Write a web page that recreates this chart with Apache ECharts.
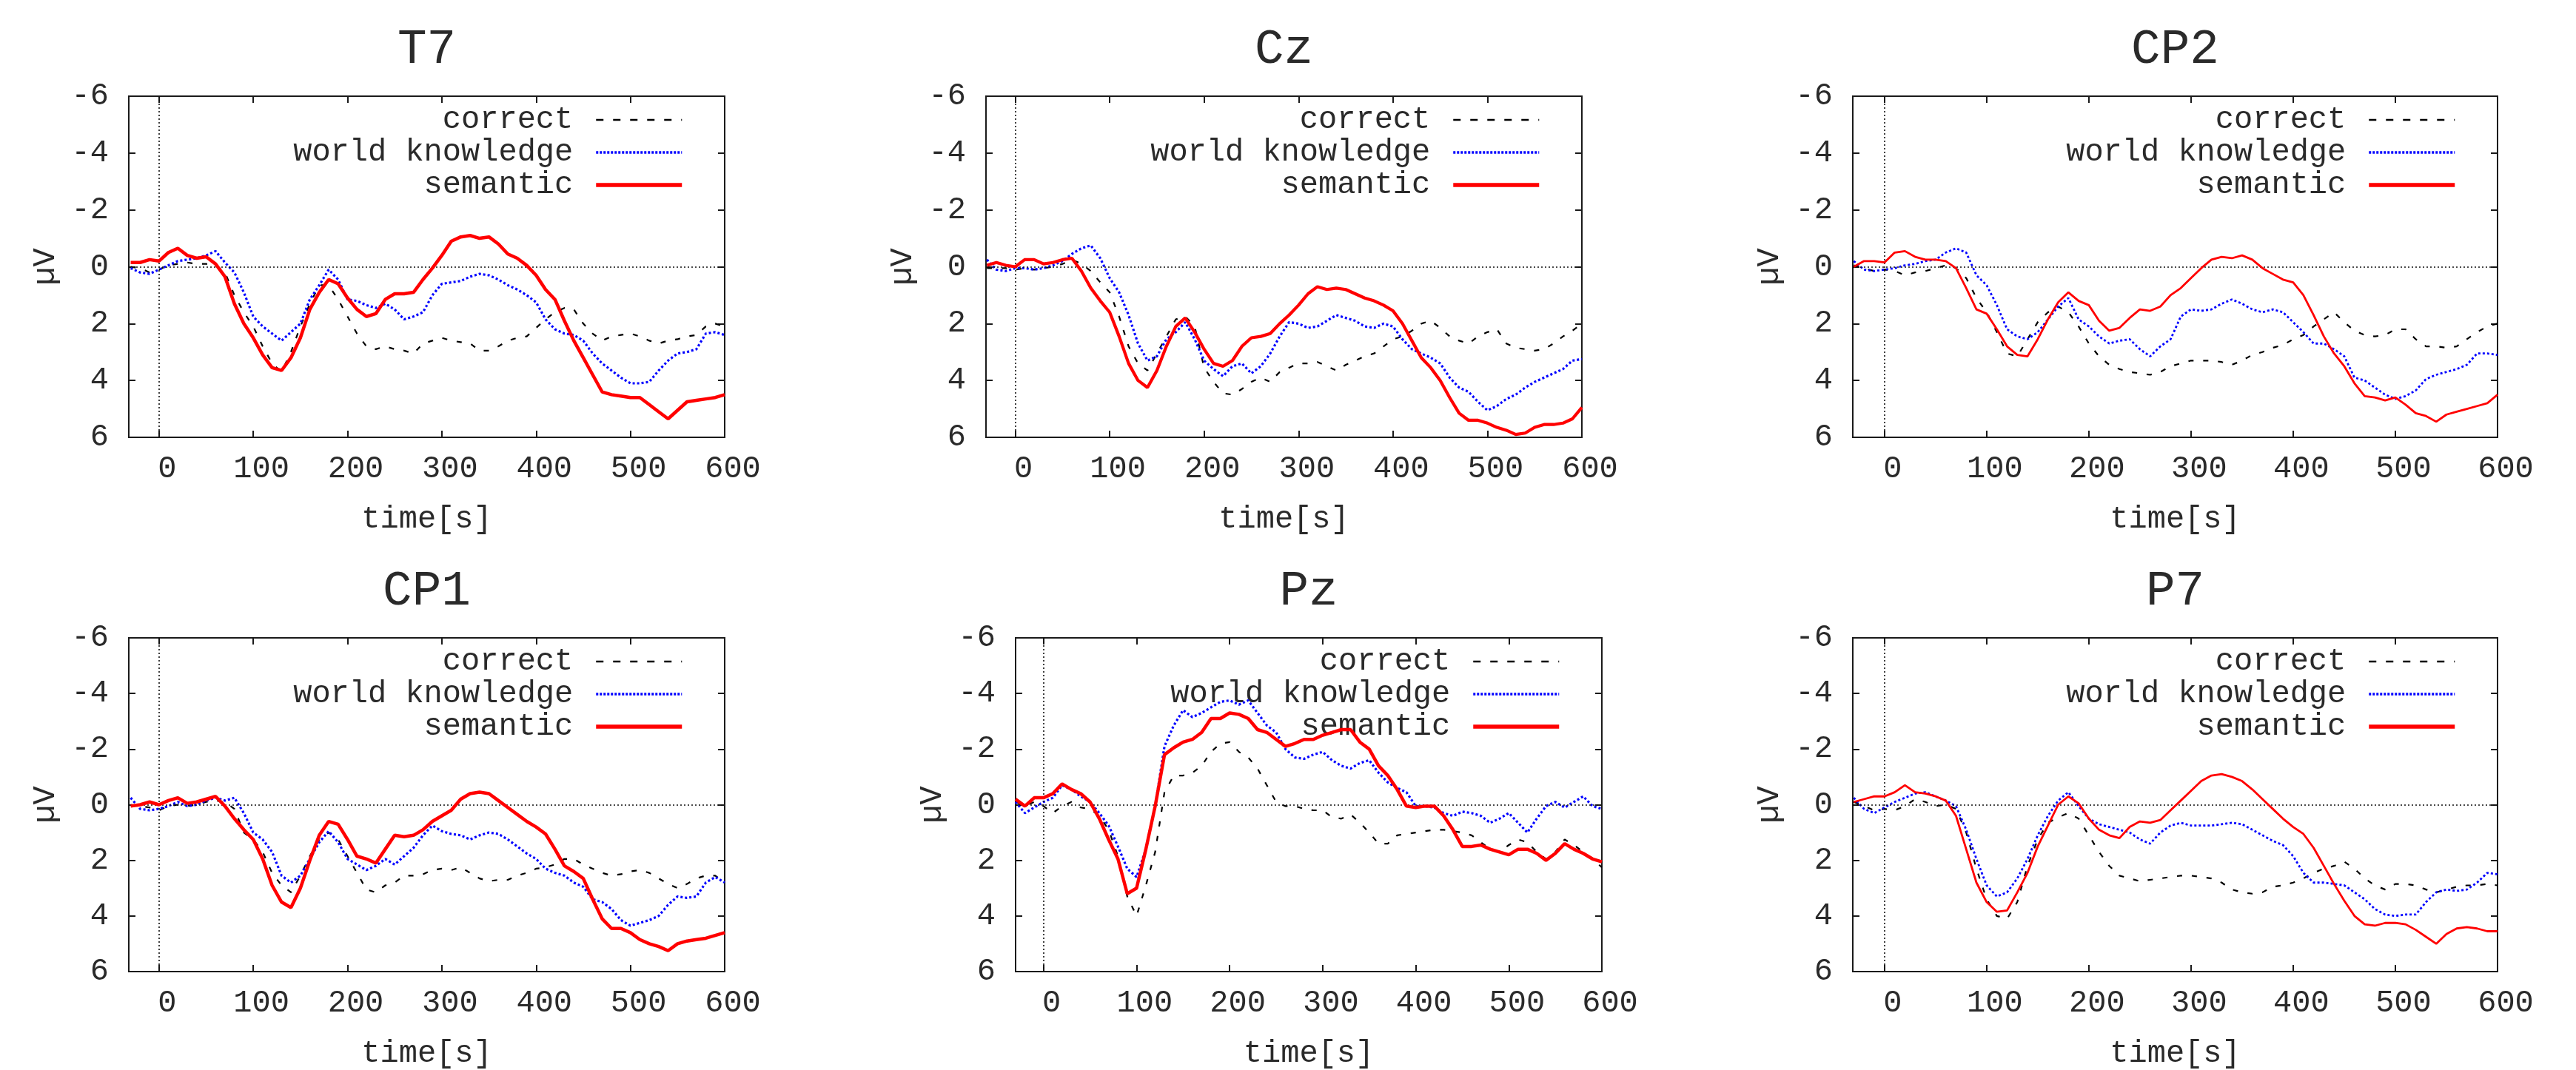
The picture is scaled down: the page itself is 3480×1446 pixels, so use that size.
<!DOCTYPE html>
<html><head><meta charset="utf-8">
<script src="https://cdn.jsdelivr.net/npm/echarts@6/dist/echarts.min.js"></script>
<style>html,body{margin:0;padding:0;background:#fff}#c{width:3480px;height:1446px}</style>
</head><body><div id="c"></div>
<script>
// ---------- data ----------
const times = [-30,-20,-10,0,10,20,30,40,50,60,
  70,80,90,100,110,120,130,140,150,160,
  170,180,190,200,210,220,230,240,250,260,
  270,280,290,300,310,320,330,340,350,360,
  370,380,390,400,410,420,430,440,450,460,
  470,480,490,500,510,520,530,540,550,560,
  570,580,590,600];
const seriesNames = ['correct', 'world knowledge', 'semantic'];
const panelTitles = ['T7', 'Cz', 'CP2', 'CP1', 'Pz', 'P7'];
const xTickValues = [0, 100, 200, 300, 400, 500, 600];

const T7_correct = [0,0.05,0.2,0.1,-0.05,-0.1,-0.15,-0.1,-0.1,-0.05,
  0.2,1.0,1.6,2.1,2.8,3.4,3.7,3.0,2.1,1.3,
  0.65,0.65,1.15,1.75,2.35,2.8,2.9,2.8,2.9,2.95,
  3.05,2.7,2.6,2.5,2.6,2.65,2.7,2.95,2.95,2.8,
  2.6,2.5,2.45,2.15,1.85,1.6,1.45,1.5,2.0,2.35,
  2.6,2.45,2.4,2.35,2.45,2.6,2.7,2.6,2.55,2.45,
  2.4,2.1,2.0,2.1];
const T7_world = [0.05,0.2,0.25,0.1,-0.05,-0.2,-0.25,-0.3,-0.4,-0.55,
  -0.15,0.2,0.9,1.75,2.1,2.35,2.6,2.3,2.0,1.15,
  0.65,0.1,0.45,1.15,1.2,1.35,1.45,1.3,1.5,1.85,
  1.75,1.6,1.0,0.6,0.55,0.5,0.35,0.25,0.3,0.45,
  0.65,0.8,1.0,1.25,1.85,2.2,2.35,2.4,2.6,3.05,
  3.4,3.65,3.9,4.1,4.1,4.05,3.65,3.3,3.05,3.0,
  2.9,2.35,2.3,2.4];
const T7_semantic = [-0.15,-0.15,-0.25,-0.2,-0.5,-0.65,-0.4,-0.3,-0.35,-0.1,
  0.35,1.3,2.0,2.5,3.1,3.55,3.65,3.2,2.5,1.5,
  0.9,0.45,0.6,1.1,1.5,1.75,1.65,1.15,0.95,0.95,
  0.9,0.45,0.05,-0.4,-0.9,-1.05,-1.1,-1.0,-1.05,-0.8,
  -0.45,-0.3,-0.05,0.3,0.8,1.15,1.9,2.6,3.2,3.8,
  4.4,4.5,4.55,4.6,4.6,4.85,5.1,5.35,5.05,4.75,
  4.7,4.65,4.6,4.5];

const Cz_correct = [0.05,0.05,0.05,0.1,0.05,0.1,0.05,0,-0.1,-0.25,
  -0.1,0.15,0.55,0.9,1.75,2.8,3.4,3.65,3.05,2.45,
  1.85,1.75,2.1,3.55,4.05,4.45,4.5,4.3,4.05,3.9,
  4.05,3.7,3.55,3.4,3.4,3.35,3.5,3.65,3.45,3.3,
  3.15,3.05,2.8,2.55,2.45,2.25,2.0,1.9,2.15,2.45,
  2.6,2.7,2.45,2.3,2.2,2.7,2.85,2.9,2.95,2.9,
  2.7,2.45,2.25,2.0];
const Cz_world = [-0.25,0.1,0.15,0.05,0.05,0.1,0.05,-0.05,-0.2,-0.45,
  -0.65,-0.75,-0.3,0.4,0.9,1.7,2.7,3.3,3.15,2.55,
  2.3,1.95,2.55,3.3,3.6,3.85,3.5,3.4,3.75,3.5,
  3.05,2.45,1.95,2.0,2.15,2.1,1.9,1.7,1.8,1.9,
  2.1,2.15,2.0,2.1,2.55,2.9,3.05,3.2,3.4,3.9,
  4.25,4.4,4.75,5.05,4.9,4.65,4.5,4.25,4.05,3.9,
  3.75,3.6,3.3,3.25];
const Cz_semantic = [-0.05,-0.15,-0.05,0,-0.25,-0.25,-0.1,-0.15,-0.25,-0.3,
  0.15,0.75,1.2,1.6,2.45,3.4,4.0,4.25,3.65,2.8,
  2.1,1.8,2.3,2.9,3.4,3.5,3.3,2.8,2.5,2.45,
  2.35,2.0,1.7,1.35,0.95,0.7,0.8,0.75,0.8,0.95,
  1.1,1.2,1.35,1.55,2.0,2.6,3.2,3.55,4.0,4.6,
  5.15,5.4,5.4,5.5,5.65,5.75,5.9,5.85,5.65,5.55,
  5.55,5.5,5.35,4.95];

const CP2_correct = [-0.05,0.05,0.15,0.1,0.15,0.3,0.2,0.15,0.05,-0.05,
  0.05,0.4,1.1,1.6,2.3,3.05,3.15,2.55,1.95,1.6,
  1.4,1.6,2.1,2.7,3.15,3.45,3.6,3.7,3.75,3.8,
  3.7,3.5,3.4,3.3,3.3,3.3,3.35,3.45,3.3,3.1,
  3.0,2.85,2.75,2.55,2.4,2.1,1.85,1.6,1.95,2.25,
  2.4,2.45,2.4,2.2,2.2,2.55,2.8,2.8,2.85,2.8,
  2.55,2.3,2.1,2.0];
const CP2_world = [-0.2,0.1,0.15,0.1,0.05,-0.05,-0.1,-0.2,-0.25,-0.5,
  -0.65,-0.5,0.3,0.65,1.35,2.2,2.45,2.55,2.3,1.85,
  1.4,1.1,1.85,2.1,2.45,2.7,2.6,2.55,2.9,3.15,
  2.8,2.55,1.75,1.5,1.55,1.5,1.3,1.15,1.3,1.5,
  1.6,1.5,1.6,1.95,2.3,2.7,2.7,2.9,3.15,3.9,
  4.0,4.25,4.5,4.65,4.55,4.35,3.95,3.8,3.7,3.6,
  3.45,3.05,3.05,3.1];
const CP2_semantic = [0,-0.2,-0.2,-0.15,-0.5,-0.55,-0.35,-0.25,-0.25,-0.2,
  0.05,0.75,1.5,1.65,2.2,2.8,3.1,3.15,2.55,1.85,
  1.25,0.9,1.2,1.35,1.9,2.25,2.15,1.8,1.5,1.55,
  1.4,1.0,0.75,0.4,0.05,-0.25,-0.35,-0.3,-0.4,-0.25,
  0.05,0.25,0.45,0.55,1.0,1.7,2.45,3.05,3.5,4.1,
  4.55,4.6,4.7,4.6,4.85,5.15,5.25,5.45,5.2,5.1,
  5.0,4.9,4.8,4.5];

const CP1_correct = [0,0.05,0.1,0.2,0.05,0,0.05,0,-0.1,-0.15,
  -0.1,0.15,1.0,1.25,1.7,2.45,2.9,3.15,2.55,1.85,
  1.25,1.0,1.25,1.85,2.45,3.05,3.15,2.9,2.8,2.55,
  2.55,2.5,2.35,2.3,2.35,2.25,2.45,2.65,2.75,2.7,
  2.7,2.55,2.45,2.3,2.25,2.15,1.95,1.95,2.15,2.3,
  2.45,2.55,2.5,2.4,2.35,2.45,2.65,2.85,3.0,2.85,
  2.65,2.55,2.55,2.8];
const CP1_world = [-0.25,0.15,0.2,0.15,0.05,-0.1,0.05,0,-0.15,-0.25,
  -0.15,-0.25,0.3,1.0,1.25,1.7,2.55,2.8,2.55,1.95,
  1.35,0.95,1.35,1.95,2.15,2.35,2.2,1.95,2.15,1.85,
  1.55,1.1,0.75,0.95,1.05,1.1,1.25,1.1,1.0,1.05,
  1.25,1.5,1.75,1.95,2.3,2.45,2.55,2.8,2.95,3.4,
  3.5,3.75,4.15,4.35,4.25,4.15,4.0,3.6,3.3,3.35,
  3.3,2.8,2.6,2.8];
const CP1_semantic = [0.05,0,-0.1,0,-0.15,-0.25,-0.05,-0.1,-0.2,-0.3,
  0.05,0.5,0.9,1.25,1.95,2.9,3.5,3.7,3.0,2.0,
  1.1,0.6,0.7,1.25,1.85,1.95,2.1,1.6,1.1,1.15,
  1.1,0.9,0.6,0.4,0.2,-0.2,-0.4,-0.45,-0.4,-0.15,
  0.1,0.35,0.6,0.8,1.05,1.6,2.2,2.4,2.65,3.4,
  4.1,4.45,4.45,4.6,4.85,5.0,5.1,5.25,5.0,4.9,
  4.85,4.8,4.7,4.6];

const Pz_correct = [-0.1,0.05,-0.1,0.05,0.3,0.05,-0.1,0.1,0.15,0.4,
  0.9,1.85,3.3,4.0,2.9,1.7,-0.45,-1.05,-1.05,-1.15,
  -1.4,-1.9,-2.2,-2.25,-1.9,-1.7,-1.3,-0.7,-0.1,0.05,
  0.05,0.15,0.2,0.2,0.45,0.5,0.35,0.65,1.0,1.4,
  1.4,1.1,1.05,1.0,0.95,0.9,0.9,0.95,1.0,1.1,
  1.35,1.6,1.7,1.45,1.25,1.35,1.7,1.95,1.7,1.25,
  1.45,1.7,1.95,2.25];
const Pz_world = [-0.1,0.3,0.1,-0.1,-0.25,-0.7,-0.55,-0.3,-0.1,0.3,
  0.75,1.5,2.3,2.6,1.6,0.05,-2.1,-2.85,-3.4,-3.15,
  -3.3,-3.5,-3.7,-3.75,-3.6,-3.75,-3.3,-2.85,-2.6,-2.0,
  -1.7,-1.65,-1.8,-1.9,-1.6,-1.4,-1.3,-1.5,-1.6,-1.15,
  -0.8,-0.6,-0.45,0.05,0.05,0.1,0.3,0.4,0.25,0.3,
  0.4,0.65,0.5,0.3,0.65,1.0,0.5,0.05,-0.1,0.1,
  -0.1,-0.3,0.05,0.15];
const Pz_semantic = [-0.2,0.05,-0.25,-0.25,-0.4,-0.75,-0.55,-0.4,-0.1,0.5,
  1.25,1.95,3.2,3.0,1.6,0.05,-1.8,-2.05,-2.25,-2.35,
  -2.6,-3.1,-3.1,-3.3,-3.25,-3.1,-2.7,-2.6,-2.35,-2.1,
  -2.2,-2.35,-2.35,-2.5,-2.6,-2.7,-2.7,-2.25,-2.0,-1.4,
  -1.05,-0.55,0.05,0.1,0.05,0.05,0.4,0.9,1.5,1.5,
  1.45,1.6,1.7,1.8,1.6,1.6,1.75,2.0,1.75,1.4,
  1.6,1.75,1.95,2.05];

const P7_correct = [-0.1,0.05,0.2,0.15,0.2,0.05,-0.2,-0.1,0.05,0,
  0.15,1.0,2.3,3.4,4.0,4.1,3.5,2.2,1.25,0.65,
  0.45,0.3,0.5,1.1,1.7,2.2,2.55,2.65,2.75,2.7,
  2.65,2.6,2.55,2.55,2.6,2.65,2.8,3.05,3.15,3.2,
  3.15,2.95,2.9,2.8,2.65,2.45,2.3,2.2,2.05,2.3,
  2.65,2.9,3.05,2.85,2.85,2.9,3.05,3.15,3.05,2.95,
  2.9,2.9,2.85,2.9];
const P7_world = [-0.25,0.15,0.3,0.1,-0.1,-0.25,-0.4,-0.45,-0.3,-0.15,
  0.05,0.9,1.95,2.9,3.3,3.15,2.65,1.95,1.1,0.4,
  -0.15,-0.45,0.05,0.5,0.7,0.8,0.9,1.0,1.25,1.4,
  1.0,0.75,0.65,0.75,0.75,0.75,0.7,0.65,0.7,0.9,
  1.1,1.3,1.45,1.85,2.45,2.8,2.8,2.85,2.9,3.15,
  3.4,3.75,3.95,4.0,3.95,3.95,3.5,3.15,3.05,3.1,
  3.05,2.8,2.45,2.5];
const P7_semantic = [-0.1,-0.2,-0.3,-0.3,-0.45,-0.7,-0.45,-0.4,-0.3,-0.15,
  0.4,1.6,2.8,3.5,3.85,3.8,3.15,2.45,1.5,0.75,
  0.0,-0.3,-0.05,0.5,0.9,1.1,1.2,0.8,0.6,0.65,
  0.55,0.2,-0.15,-0.5,-0.85,-1.05,-1.1,-1.0,-0.85,-0.55,
  -0.2,0.15,0.5,0.8,1.05,1.55,2.2,2.85,3.45,4.0,
  4.3,4.35,4.25,4.25,4.3,4.5,4.75,5.0,4.65,4.45,
  4.4,4.45,4.55,4.55];

const panelValues = [
  [T7_correct, T7_world, T7_semantic],
  [Cz_correct, Cz_world, Cz_semantic],
  [CP2_correct, CP2_world, CP2_semantic],
  [CP1_correct, CP1_world, CP1_semantic],
  [Pz_correct, Pz_world, Pz_semantic],
  [P7_correct, P7_world, P7_semantic]
];

// ---------- layout & style ----------
const W = 3480;
const FONT = '"Liberation Mono", "DejaVu Sans Mono", monospace';
const TXT = '#2a2a2a';
const FRAME = '#1a1a1a';
const panels = [
  {left: 174,  top: 130, width: 805, height: 461, xmin: -32, redW: 4.5, blueW: 3.2},
  {left: 1332, top: 130, width: 805, height: 461, xmin: -31, redW: 4.2, blueW: 3.2},
  {left: 2503, top: 130, width: 871, height: 461, xmin: -31, redW: 2.8, blueW: 2.8},
  {left: 174,  top: 862, width: 805, height: 459, xmin: -32, redW: 4.5, blueW: 3.2},
  {left: 1372, top: 862, width: 792, height: 459, xmin: -30, redW: 4.5, blueW: 3.2},
  {left: 2503, top: 862, width: 871, height: 459, xmin: -31, redW: 2.8, blueW: 2.8}
];
const seriesColors = ['#000000', '#0000ff', '#ff0000'];
const legendLineStyles = [
  {color: '#000000', width: 2.5, type: [10, 13]},
  {color: '#0000ff', width: 3.5, type: [3, 2]},
  {color: '#ff0000', width: 5.5, type: 'solid'}
];

const option = {
  animation: false,
  backgroundColor: '#ffffff',
  title: [], legend: [], grid: [], xAxis: [], yAxis: [], series: []
};

const tickStyle = {show: true, inside: true, length: 9, lineStyle: {color: FRAME, width: 2}};
const hiddenLine = {show: false, onZero: false};

panels.forEach((p, i) => {
  option.grid.push({
    left: p.left, top: p.top, width: p.width, height: p.height,
    show: true, borderColor: FRAME, borderWidth: 2, backgroundColor: 'transparent'
  });
  option.title.push({
    text: panelTitles[i],
    left: p.left + p.width / 2, top: p.top - 95,
    textAlign: 'center', padding: 0,
    textStyle: {fontFamily: FONT, fontSize: 66, fontWeight: 'normal', color: TXT, lineHeight: 66}
  });
  option.legend.push({
    orient: 'vertical', align: 'right',
    right: W - (p.left + p.width - 55), top: p.top + 10,
    padding: 0, itemWidth: 116, itemHeight: 14, itemGap: 0,
    selectedMode: false,
    data: seriesNames.map((n, k) => ({name: n, lineStyle: legendLineStyles[k]})),
    itemStyle: {opacity: 0},
    textStyle: {fontFamily: FONT, fontSize: 42, color: TXT, lineHeight: 44, padding: [0, 26, 0, 0]}
  });
  option.xAxis.push({
    gridIndex: i, type: 'value', min: p.xmin, max: 600, position: 'bottom',
    axisLine: hiddenLine,
    axisTick: Object.assign({customValues: xTickValues}, tickStyle),
    axisLabel: {customValues: xTickValues, fontFamily: FONT, fontSize: 42, color: TXT, margin: 22, padding: [0, 0, 0, 22]},
    splitLine: {show: false},
    name: 'time[s]', nameLocation: 'middle', nameGap: 90,
    nameTextStyle: {fontFamily: FONT, fontSize: 42, color: TXT}
  });
  option.xAxis.push({
    gridIndex: i, type: 'value', min: p.xmin, max: 600, position: 'top',
    axisLine: hiddenLine,
    axisTick: Object.assign({customValues: xTickValues}, tickStyle),
    axisLabel: {show: false}, splitLine: {show: false}
  });
  option.yAxis.push({
    gridIndex: i, type: 'value', min: -6, max: 6, interval: 2, inverse: true, position: 'left',
    axisLine: hiddenLine,
    axisTick: tickStyle,
    axisLabel: {fontFamily: FONT, fontSize: 42, color: TXT, margin: 27},
    splitLine: {show: false},
    name: 'µV', nameLocation: 'middle', nameRotate: 90, nameGap: 91,
    nameTextStyle: {fontFamily: FONT, fontSize: 42, color: TXT}
  });
  option.yAxis.push({
    gridIndex: i, type: 'value', min: -6, max: 6, interval: 2, inverse: true, position: 'right',
    axisLine: hiddenLine,
    axisTick: tickStyle,
    axisLabel: {show: false}, splitLine: {show: false}
  });
  const styles = [
    {color: '#000000', width: 2.2, type: [7, 13]},
    {color: '#0000ff', width: p.blueW, type: [3, 3]},
    {color: '#ff0000', width: p.redW, type: 'solid'}
  ];
  panelValues[i].forEach((vals, k) => {
    const s = {
      name: seriesNames[k], type: 'line',
      xAxisIndex: 2 * i, yAxisIndex: 2 * i,
      data: times.map((t, j) => [t, vals[j]]),
      symbol: 'none', showSymbol: false,
      color: seriesColors[k],
      lineStyle: styles[k],
      z: 3 + k, silent: true
    };
    if (k === 0) {
      s.markLine = {
        silent: true, symbol: ['none', 'none'], animation: false,
        label: {show: false},
        lineStyle: {color: '#111111', width: 1.6, type: [2, 3]},
        emphasis: {disabled: true},
        data: [{xAxis: 0}, {yAxis: 0}]
      };
    }
    option.series.push(s);
  });
});

const chart = echarts.init(document.getElementById('c'), null, {renderer: 'canvas'});
chart.setOption(option);
</script>
</body></html>
